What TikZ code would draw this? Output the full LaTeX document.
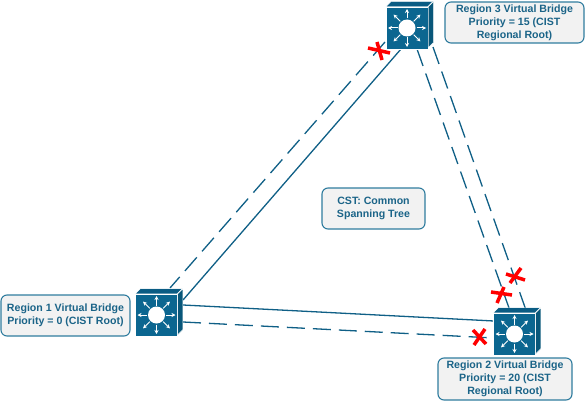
\documentclass[tikz,border=0pt]{standalone}
\usepackage{fontspec}
\setmainfont{Liberation Sans}
\usetikzlibrary{arrows.meta}
\definecolor{sw}{HTML}{0B6690}
\definecolor{swtop}{HTML}{0A5C84}
\definecolor{txt}{HTML}{1B6488}
\definecolor{edge}{HTML}{2F7C9E}
\definecolor{lnk}{HTML}{0F5F86}
\tikzset{
 lab/.style={draw=edge,line width=1.1pt,fill=black!5,rounded corners=6pt,align=center,text=txt,
   font=\fontsize{10.6}{12.9}\selectfont\bfseries,inner sep=0pt,anchor=center},
 solidlink/.style={draw=lnk,line width=1.3pt},
 dashlink/.style={draw=lnk,line width=1.3pt,dash pattern=on 18pt off 8pt},
 cross/.style={draw=red,line width=3.5pt},
 swfront/.style={rectangle,fill=sw,draw=white,line width=0.5pt,minimum width=42pt,minimum height=42pt,inner sep=0pt},
 swarrow/.style={draw=white,line width=1pt,-{Stealth[length=4pt,width=4pt]}},
}
\newcommand{\swdetail}[1]{%
 \fill[swtop,draw=white,line width=0.4pt] (#1.north west)--++(5,-5)--++(42,0)--++(-5,5)--cycle;
 \fill[sw!85!black,draw=white,line width=0.4pt] (#1.north east)--++(5,-5)--++(0,41)--++(-5,5)--cycle;
 \foreach \a in {0,45,...,315}{
  \draw[swarrow] ([shift={(\a:9.5)}]#1.center)--([shift={(\a:19)}]#1.center);}
 \fill[white] (#1.center) circle (8.5);
}
\begin{document}
\begin{tikzpicture}[x=1pt,y=-1pt]
\useasboundingbox (0,0) rectangle (585,401);
% end points of the links
\coordinate (a1) at (183,300); \coordinate (a3) at (401,49);
\coordinate (b1) at (170,288); \coordinate (b3) at (385,42);
\coordinate (c1) at (183,305); \coordinate (c2) at (494,321);
\coordinate (d1) at (183,322); \coordinate (d2) at (494,338);
\coordinate (e3) at (417,49);  \coordinate (e2) at (509,308);
\coordinate (f3) at (433,47);  \coordinate (f2) at (527,313);
\draw[solidlink] (a1)--(a3);
\draw[solidlink] (c1)--(c2);
\draw[dashlink] (b3)--(b1);
\draw[dashlink] (d1)--(d2);
\draw[dashlink] (e3)--(e2);
\draw[dashlink] (f3)--(f2);
% switches
\node[swfront] (r3) at (407,28) {}; \swdetail{r3}
\node[swfront] (r2) at (514.5,334) {}; \swdetail{r2}
\node[swfront] (r1) at (156.5,315) {}; \swdetail{r1}
% labels
\node[lab,minimum width=139pt,minimum height=41pt] (l3) at (514.5,22.5) {Region 3 Virtual Bridge\\Priority = 15 (CIST\\Regional Root)};
\node[lab,minimum width=134pt,minimum height=42pt] (l2) at (505,379) {Region 2 Virtual Bridge\\Priority = 20 (CIST\\Regional Root)};
\node[lab,minimum width=129pt,minimum height=41pt] (l1) at (65.5,315.5) {Region 1 Virtual Bridge\\Priority = 0 (CIST Root)};
\node[lab,minimum width=103pt,minimum height=41pt] (cst) at (373.5,208.5) {CST: Common\\Spanning Tree};
% crosses
\draw[cross] (368,48)--(390,53); \draw[cross] (377,42)--(382,60);
\draw[cross] (506,274)--(525,280); \draw[cross] (510,283)--(521,268);
\draw[cross] (491,292)--(512,295); \draw[cross] (497,303)--(504,287);
\draw[cross] (473,330)--(486,344); \draw[cross] (485,329)--(474,345);
\end{tikzpicture}
\end{document}
